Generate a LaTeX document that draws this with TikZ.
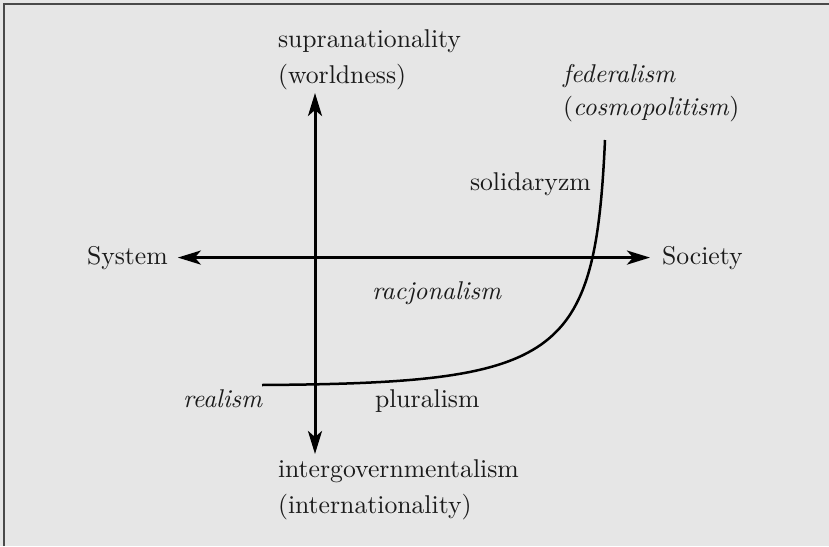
\documentclass[tikz,border=0pt]{standalone}
\usepackage{fontspec}
\setmainfont{lmroman10-regular}[Extension=.otf, ItalicFont=lmroman10-italic]
\usetikzlibrary{arrows.meta}
\definecolor{bgc}{HTML}{E6E6E6}
\definecolor{framec}{HTML}{4A4A4A}
\definecolor{txt}{HTML}{1A1A1A}
\begin{document}
\begin{tikzpicture}[x=1pt,y=-1pt,
  lbl/.style={anchor=base west, inner sep=0pt, outer sep=0pt, text=txt, font=\fontsize{25.7}{30}\selectfont},
  ilbl/.style={lbl, font=\fontsize{25.7}{30}\selectfont\itshape},
  axis/.style={line width=3pt, draw=black, {Stealth[length=23pt,width=14pt,inset=6pt]}-{Stealth[length=23pt,width=14pt,inset=6pt]}},
  curveline/.style={line width=2.5pt, draw=black}]
\fill[bgc] (0,0) rectangle (829,546);
\useasboundingbox (0,0) rectangle (829,546);
\draw[framec, line width=2.5pt] (4,546) -- (4,4) -- (829,4);
% labels
\node[lbl] (sys) at (87,264) {System};
\node[lbl] (soc) at (662,264) {Society};
\node[lbl] (sup1) at (278,47) {supranationality};
\node[lbl] (sup2) at (278,83) {(worldness)};
\node[lbl] (int1) at (278,477) {intergovernmentalism};
\node[lbl] (int2) at (278,513) {(internationality)};
\node[ilbl] (fed1) at (563,82) {federalism};
\node[lbl] (fed2) at (563,115) {(\textit{cosmopolitism})};
\node[lbl] (sol) at (470,190) {solidaryzm};
\node[ilbl] (rac) at (372,299) {racjonalism};
\node[ilbl] (rea) at (183,407) {realism};
\node[lbl] (plu) at (375,407) {pluralism};
% axes
\coordinate (vtop) at (315,93);
\coordinate (vbot) at (315,454);
\draw[axis] (vbot) -- (vtop);
\draw[axis, shorten <=10pt, shorten >=12pt] (sys.east) -- (soc.west);
% curve
\coordinate (cstart) at (262,385);
\coordinate (cend) at (605,140);
\draw[curveline] (cstart) .. controls (560,383) and (595,360) .. (cend);
\end{tikzpicture}
\end{document}
